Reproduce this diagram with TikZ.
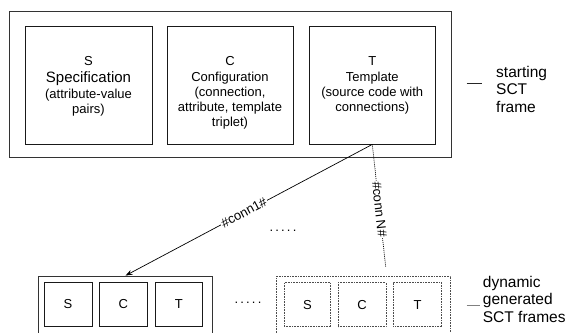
\documentclass[tikz,border=0pt]{standalone}
\usepackage{fontspec}
\setmainfont{Liberation Sans}
\usetikzlibrary{arrows.meta}
\begin{document}
\begin{tikzpicture}[x=1pt,y=-1pt,
  frame/.style={draw=black!80, line width=0.8pt, inner sep=0pt},
  box/.style={draw=black!90, line width=0.8pt, inner sep=0pt},
  dframe/.style={draw=black!70, line width=0.8pt, dash pattern=on 0.8pt off 0.8pt, inner sep=0pt},
  txt/.style={font={\fontsize{13}{15}\selectfont}, align=center, inner sep=0pt},
  side/.style={font={\fontsize{15.5}{17.5}\selectfont}, align=left, inner sep=0pt},
  conn/.style={font={\fontsize{13}{15}\selectfont}, fill=white, inner sep=1pt, sloped},
  sidedash/.style={line width=0.9pt}
]
\useasboundingbox (0,0) rectangle (569,332);
\clip (0,0) rectangle (569,332);

% starting frame
\node[frame, minimum width=442.5pt, minimum height=146pt] (top) at (230.25,84.5) {};
\node[box, minimum width=127pt, minimum height=118pt] (s) at (88.5,85) {};
\node[box, minimum width=126pt, minimum height=118pt] (c) at (230,85) {};
\node[box, minimum width=126.7pt, minimum height=118pt] (t) at (372.3,85) {};

\node[txt, anchor=north] (stxt) at (88.5,56.3) {S\\[2pt]{\fontsize{15}{17}\selectfont Specification}\\[1pt](attribute-value\\pairs)};
\node[txt, anchor=north] (ctxt) at (230,56.3) {C\\[1pt]Configuration\\(connection,\\attribute, template\\triplet)};
\node[txt, anchor=north] (ttxt) at (372.3,56.3) {T\\[1pt]Template\\(source code with\\connections)};

\node[side, anchor=west] (startlbl) at (496,89) {starting\\SCT\\frame};
\coordinate (d1a) at (466.7,83);
\coordinate (d1b) at (481.7,83);
\draw[sidedash, black!85] (d1a) -- (d1b);

% generated frames
\node[frame, minimum width=174.4pt, minimum height=58pt] (lf) at (125.5,305) {};
\node[box, minimum width=48pt, minimum height=43.6pt] (ls) at (68,304.5) {};
\node[box, minimum width=48pt, minimum height=43.6pt] (lc) at (123.3,304.5) {};
\node[box, minimum width=47.7pt, minimum height=43.6pt] (lt) at (178.85,304.5) {};
\node[txt] at (ls.center) {S};
\node[txt] at (lc.center) {C};
\node[txt] at (lt.center) {T};

\node[txt] (dotsb) at (248,303) {.\,.\,.\,.\,.};

\node[dframe, minimum width=174pt, minimum height=58pt] (rf) at (363.7,305) {};
\node[dframe, minimum width=46.7pt, minimum height=44pt] (rs) at (307.35,304.7) {};
\node[dframe, minimum width=48pt, minimum height=44pt] (rc) at (362,304.7) {};
\node[dframe, minimum width=48.4pt, minimum height=44pt] (rt) at (417.5,304.7) {};
\node[txt] at (rs.center) {S};
\node[txt] at (rc.center) {C};
\node[txt] at (rt.center) {T};

\node[side, anchor=west] (dynlbl) at (482.7,299) {dynamic\\generated\\SCT frames};
\coordinate (d2a) at (466.7,305);
\coordinate (d2b) at (480,305);
\draw[sidedash, black!50] (d2a) -- (d2b);

% connectors
\node[txt] (dotsm) at (283,231) {.\,.\,.\,.\,.};
\draw[line width=0.7pt, -{Stealth[length=7pt,width=5pt]}] (t.south) -- node[conn, pos=0.52] {\#conn1\#} (lf.north);
\coordinate (nend) at (385.7,267);
\draw[line width=0.7pt, dash pattern=on 1pt off 1pt] (t.south) -- node[conn, pos=0.53] {\#conn N\#} (nend);
\end{tikzpicture}
\end{document}
